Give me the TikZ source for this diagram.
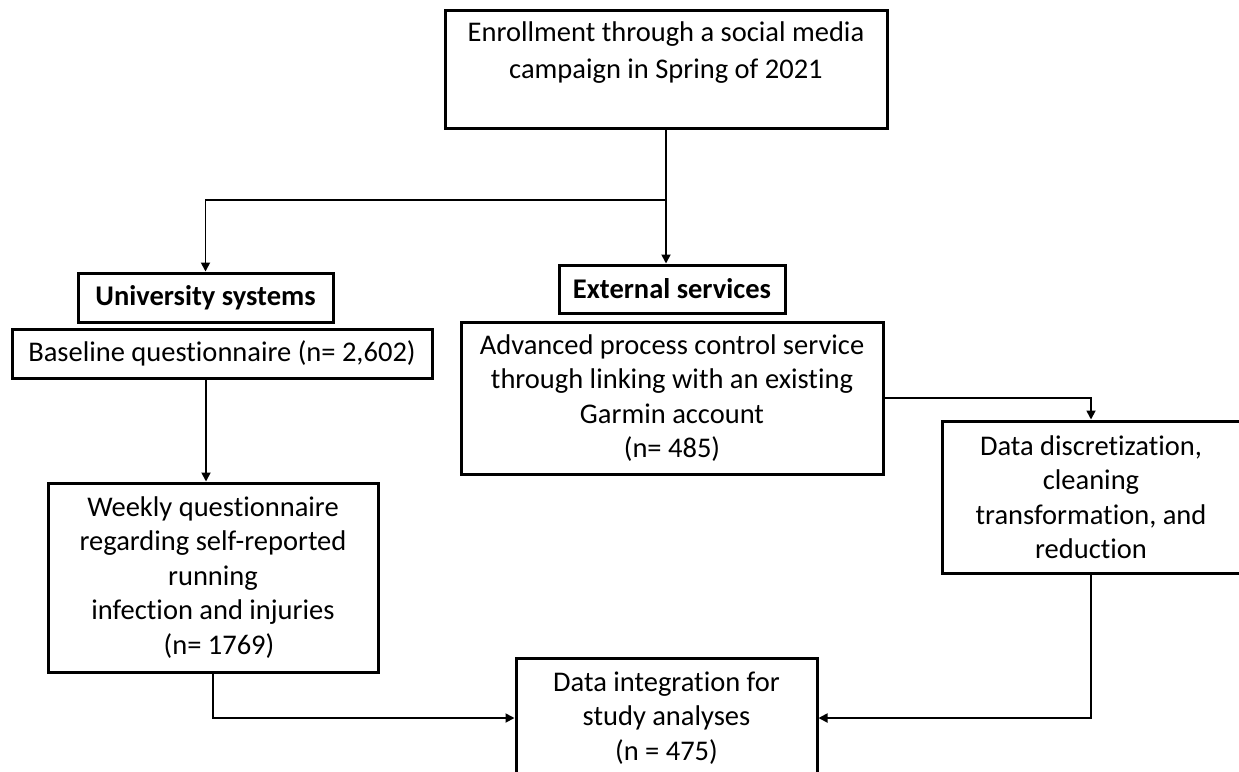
\documentclass[tikz,border=0pt]{standalone}
\usepackage{fontspec}
\setmainfont{Carlito}[Ligatures=NoCommon]
\usetikzlibrary{arrows.meta}
\tikzset{
  box/.style={draw, line width=3pt, inner sep=0pt, align=center, font=\fontsize{28.5}{34.5}\selectfont},
  hdr/.style={box, font=\fontsize{28.5}{34.5}\selectfont\bfseries},
  arr/.style={line width=1.8pt, -{Triangle[length=9pt,width=9pt]}},
  ln/.style={line width=1.8pt}
}
\begin{document}
\begin{tikzpicture}[x=1pt,y=-1pt]
\useasboundingbox (0,0) rectangle (1239,771);
\clip (0,0) rectangle (1239,771);
\fill[white] (0,0) rectangle (1239,771);

\node[box, minimum width=442pt, minimum height=118pt, font=\fontsize{28.5}{37}\selectfont] (top) at (666,69)
  {Enrollment through a social media\\campaign in Spring of 2021\\\mbox{}};
\node[hdr, minimum width=255pt, minimum height=49pt] (uni) at (205.5,297.5) {University systems};
\node[box, minimum width=420pt, minimum height=49pt] (base) at (222,353.5) {Baseline questionnaire (n= 2,602)};
\node[hdr, minimum width=226pt, minimum height=48pt] (ext) at (672,289) {External services};
\node[box, minimum width=422pt, minimum height=152pt] (adv) at (672,398)
  {Advanced process control service\\through linking with an existing\\Garmin account\\(n= 485)};
\node[box, minimum width=298pt, minimum height=152pt] (disc) at (1091,497)
  {Data discretization,\\cleaning\\transformation, and\\reduction};
\node[box, minimum width=330pt, minimum height=189pt] (week) at (213,577.5)
  {Weekly questionnaire\\regarding self-reported\\running\\infection and injuries\\\hspace*{12pt}(n= 1769)};
\node[box, minimum width=301pt, minimum height=120pt] (bot) at (666.5,718)
  {Data integration for\\study analyses\\(n = 475)};

\coordinate (br) at (top.south |- 0,200);
\draw[arr] (top.south) -- (top.south |- ext.north);
\draw[arr] (br) -| (uni.north);
\draw[arr] (base.south -| 206,0) -- (206,0 |- week.north);
\draw[arr] (adv.east) -| (disc.north);
\draw[arr] (week.south) |- (bot.west);
\draw[arr] (disc.south) |- (bot.east);
\end{tikzpicture}
\end{document}
